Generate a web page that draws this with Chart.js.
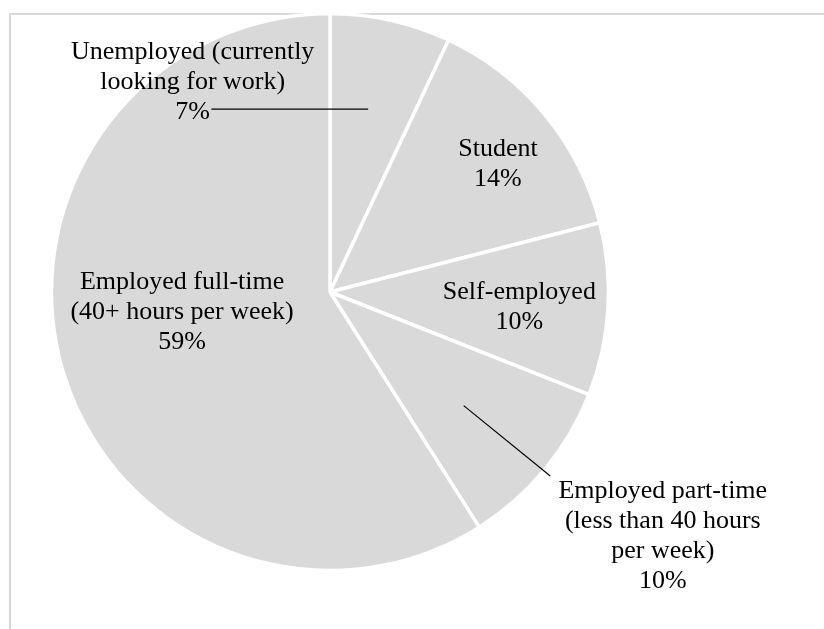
<!DOCTYPE html>
<html>
<head>
<meta charset="utf-8">
<script src="https://cdn.jsdelivr.net/npm/chart.js@4/dist/chart.umd.min.js"></script>
<style>
  html, body { margin: 0; padding: 0; background: #ffffff; }
  #wrap { position: relative; width: 824px; height: 629px; overflow: hidden; }
  canvas { display: block; }
</style>
</head>
<body>
<div id="wrap"><canvas id="chart" width="824" height="629"></canvas></div>
<script>
// Employment status breakdown (percent of respondents)
const categories = [
  ["Unemployed (currently", "looking for work)"],
  ["Student"],
  ["Self-employed"],
  ["Employed part-time", "(less than 40 hours", "per week)"],
  ["Employed full-time", "(40+ hours per week)"]
];
const shares = [7, 14, 10, 10, 59];

// Label block centres and leader lines, in units of the pie radius from its centre
const labelSpots = [
  { x: -0.493, y: -0.753, line: [[-0.426, -0.657], [0.137, -0.657]] },
  { x: 0.603, y: -0.460 },
  { x: 0.680, y: 0.053 },
  { x: 1.195, y: 0.877, line: [[0.480, 0.408], [0.791, 0.661]] },
  { x: -0.531, y: 0.072 }
];

const FONT_SIZE = 26;
const LINE_H = 30;

const framePlugin = {
  id: 'frame',
  beforeDraw(chart) {
    const ctx = chart.ctx;
    ctx.save();
    ctx.strokeStyle = '#d9d9d9';
    ctx.lineWidth = 2;
    ctx.beginPath();
    ctx.moveTo(10, 640);
    ctx.lineTo(10, 14);
    ctx.lineTo(830, 14);
    ctx.stroke();
    ctx.restore();
  }
};

const sliceLabels = {
  id: 'sliceLabels',
  afterDatasetsDraw(chart) {
    const ctx = chart.ctx;
    const meta = chart.getDatasetMeta(0);
    const arc0 = meta.data[0];
    const cx = arc0.x, cy = arc0.y, R = arc0.outerRadius;
    ctx.save();
    ctx.fillStyle = '#000000';
    ctx.strokeStyle = '#000000';
    ctx.lineWidth = 1.2;
    ctx.font = FONT_SIZE + 'px "Liberation Serif", "Times New Roman", serif';
    ctx.textAlign = 'center';
    ctx.textBaseline = 'middle';
    meta.data.forEach((arc, i) => {
      const spot = labelSpots[i];
      const lines = categories[i].concat([shares[i] + '%']);
      const bx = cx + spot.x * R;
      const by = cy + spot.y * R;
      const top = by - (lines.length - 1) * LINE_H / 2;
      lines.forEach((t, k) => ctx.fillText(t, bx, top + k * LINE_H));
      if (spot.line) {
        ctx.beginPath();
        ctx.moveTo(cx + spot.line[0][0] * R, cy + spot.line[0][1] * R);
        ctx.lineTo(cx + spot.line[1][0] * R, cy + spot.line[1][1] * R);
        ctx.stroke();
      }
    });
    ctx.restore();
  }
};

new Chart(document.getElementById('chart'), {
  type: 'pie',
  data: {
    labels: categories.map(c => c.join(' ')),
    datasets: [{
      data: shares,
      backgroundColor: '#d9d9d9',
      borderColor: '#ffffff',
      borderWidth: 3.5,
      radius: 278.5
    }]
  },
  options: {
    responsive: false,
    animation: false,
    events: [],
    layout: { padding: { left: 0, top: 0, right: 164, bottom: 45 } },
    plugins: {
      legend: { display: false },
      tooltip: { enabled: false }
    }
  },
  plugins: [framePlugin, sliceLabels]
});
</script>
</body>
</html>
